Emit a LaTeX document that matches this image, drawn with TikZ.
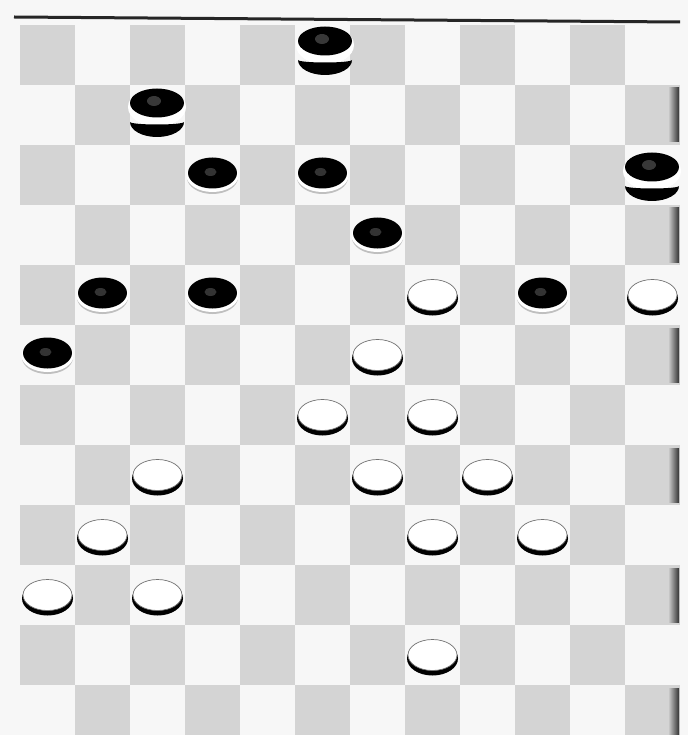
\documentclass[tikz,border=0pt]{standalone}
\tikzset{
  sq/.style={fill=black!17},
  blackman/.pic={
    \fill[black!25] (0,2.5) ellipse[x radius=25.5, y radius=16.5];
    \fill[white] (0,0.5) ellipse[x radius=26, y radius=16.5];
    \fill[black] (0,-2) ellipse[x radius=24.5, y radius=15.5];
    \fill[black!80] (-2,-3) ellipse[x radius=6, y radius=4];
  },
  whiteman/.pic={
    \fill[black] (0,2.5) ellipse[x radius=25.5, y radius=17];
    \filldraw[fill=white, draw=black!55, line width=0.7pt] (0,-1) ellipse[x radius=24.5, y radius=15.5];
  },
  blackking/.pic={
    \fill[white] (0,4) ellipse[x radius=29, y radius=19.5];
    \fill[black] (-27,19) arc[start angle=180, end angle=0, x radius=27, y radius=15]
                 arc[start angle=0, end angle=180, x radius=27, y radius=2.5] -- cycle;
    \fill[black] (0,0) ellipse[x radius=27, y radius=14.5];
    \fill[black!78] (-3,-2) ellipse[x radius=7, y radius=5];
  }
}
\begin{document}
\begin{tikzpicture}[x=1pt,y=-1pt]
\useasboundingbox (0,0) rectangle (688,735);
\fill[white!97!black] (0,0) rectangle (688,735);
\begin{scope}
  \clip (0,0) rectangle (688,735);
  \foreach \r in {0,...,11}{
    \foreach \c in {0,...,11}{
      \pgfmathtruncatemacro\sqparity{mod(\r+\c,2)}
      \ifnum\sqparity=0 \fill[sq] ({20+55*\c},{25+60*\r}) rectangle ++(55,60);\fi
    }
  }
  \foreach \r in {1,3,5,7,9,11}{
    \shade[left color=black!17, right color=black!80] (668,{28+60*\r}) rectangle (679,{82+60*\r});
  }
\end{scope}
\draw[line width=3pt, black!85] (14,17) -- (680,22);
% white men
\foreach \r/\c in {4/7,4/11,5/6,6/5,6/7,7/2,7/6,7/8,8/1,8/7,8/9,9/0,9/2,10/7}
  \pic at ({47.5+55*\c},{56+60*\r}) {whiteman};
% black men
\foreach \r/\c in {2/3,2/5,3/6,4/1,4/3,4/9,5/0}
  \pic at ({47.5+55*\c},{55+60*\r}) {blackman};
% black kings
\pic at (325,41) {blackking};
\pic at (157,103) {blackking};
\pic at (652,167) {blackking};
\end{tikzpicture}
\end{document}
